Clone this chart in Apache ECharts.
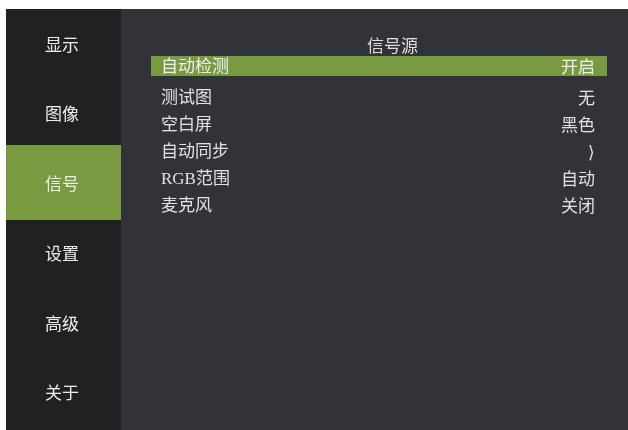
<!DOCTYPE html>
<html><head><meta charset="utf-8">
<script src="https://cdn.jsdelivr.net/npm/echarts@6/dist/echarts.min.js"></script>
<style>html,body{margin:0;padding:0;background:#fff}#c{width:628px;height:430px}</style>
</head><body><div id="c"></div>
<script>
// ---- data ----
var menuItems = ['显示', '图像', '信号', '设置', '高级', '关于'];
var menuSelected = 2;
var panelTitle = '信号源';
var settingNames = ['自动检测', '测试图', '空白屏', '自动同步', 'RGB范围', '麦克风'];
var settingValues = ['开启', '无', '黑色', '⟩', '自动', '关闭'];
var settingSelected = 0;

// ---- styles ----
var GREEN = '#789b41';
var FONT = "'Liberation Serif', 'Noto Sans CJK SC', sans-serif";
var CJK = "'Noto Sans CJK SC', sans-serif";

var restNames = settingNames.filter(function (_, i) { return i !== settingSelected; });
var restValues = settingValues.filter(function (_, i) { return i !== settingSelected; });

function hiddenValueAxis(gi) { return { type: 'value', gridIndex: gi, min: 0, max: 1, show: false }; }
function hiddenCatAxis(gi, data) { return { type: 'category', gridIndex: gi, data: data, inverse: true, show: false }; }

var chart = echarts.init(document.getElementById('c'), null, { renderer: 'canvas' });
chart.setOption({
  backgroundColor: '#ffffff',
  animation: false,
  title: {
    text: panelTitle, left: 367, top: 37, padding: 0,
    textStyle: { color: '#dedede', fontSize: 17, fontWeight: 'normal', fontFamily: CJK }
  },
  grid: [
    { left: 6, top: 9, width: 115, height: 421, show: true, backgroundColor: '#212123', borderWidth: 0 },
    { left: 121, top: 9, right: 0, bottom: 0, show: true, backgroundColor: '#323338', borderWidth: 0 },
    { left: 151, top: 56, width: 456, height: 20 },
    { left: 151, top: 84, width: 456, height: 135 },
    { left: 6, top: 7, width: 115, height: 421 }
  ],
  xAxis: [hiddenValueAxis(0), hiddenValueAxis(1), hiddenValueAxis(2), hiddenValueAxis(3), hiddenValueAxis(4)],
  yAxis: [
    hiddenCatAxis(0, ['']),
    hiddenCatAxis(1, ['']),
    hiddenCatAxis(2, [settingNames[settingSelected]]),
    hiddenCatAxis(3, restNames),
    hiddenCatAxis(4, menuItems)
  ],
  series: [
    {
      type: 'bar', xAxisIndex: 4, yAxisIndex: 4, barWidth: 75, silent: true,
      data: menuItems.map(function (n, i) {
        return { value: 1, itemStyle: { color: i === menuSelected ? GREEN : 'transparent' } };
      }),
      label: { show: true, position: 'inside', formatter: '{b}', color: '#ececec', fontSize: 17, fontFamily: CJK, offset: [-1.5, 1] }
    },
    {
      type: 'bar', xAxisIndex: 2, yAxisIndex: 2, barCategoryGap: '0%', silent: true,
      data: [{ value: 1, itemStyle: { color: GREEN } }],
      label: { show: true, position: 'insideLeft', distance: 10, offset: [0, 2], formatter: '{b}', color: '#f0f0f0', fontSize: 17, fontFamily: FONT }
    },
    {
      type: 'bar', xAxisIndex: 2, yAxisIndex: 2, barCategoryGap: '0%', barGap: '-100%', silent: true,
      data: [{ value: 1, itemStyle: { color: 'transparent' } }],
      label: { show: true, position: 'insideRight', distance: 12, offset: [0, 1], color: '#f0f0f0', fontSize: 17, fontFamily: CJK,
        formatter: function () { return settingValues[settingSelected]; } }
    },
    {
      type: 'bar', xAxisIndex: 3, yAxisIndex: 3, barCategoryGap: '0%', silent: true,
      data: restNames.map(function () { return { value: 1, itemStyle: { color: 'transparent' } }; }),
      label: { show: true, position: 'insideLeft', distance: 10, offset: [0, 1.5], formatter: '{b}', color: '#e2e2e2', fontSize: 17, fontFamily: FONT }
    },
    {
      type: 'bar', xAxisIndex: 3, yAxisIndex: 3, barCategoryGap: '0%', barGap: '-100%', silent: true,
      data: restNames.map(function () { return { value: 1, itemStyle: { color: 'transparent' } }; }),
      label: { show: true, position: 'insideRight', distance: 12, offset: [0, 0.5], color: '#e2e2e2', fontSize: 17, fontFamily: CJK,
        formatter: function (p) { return restValues[p.dataIndex]; } }
    }
  ]
});
</script></body></html>
